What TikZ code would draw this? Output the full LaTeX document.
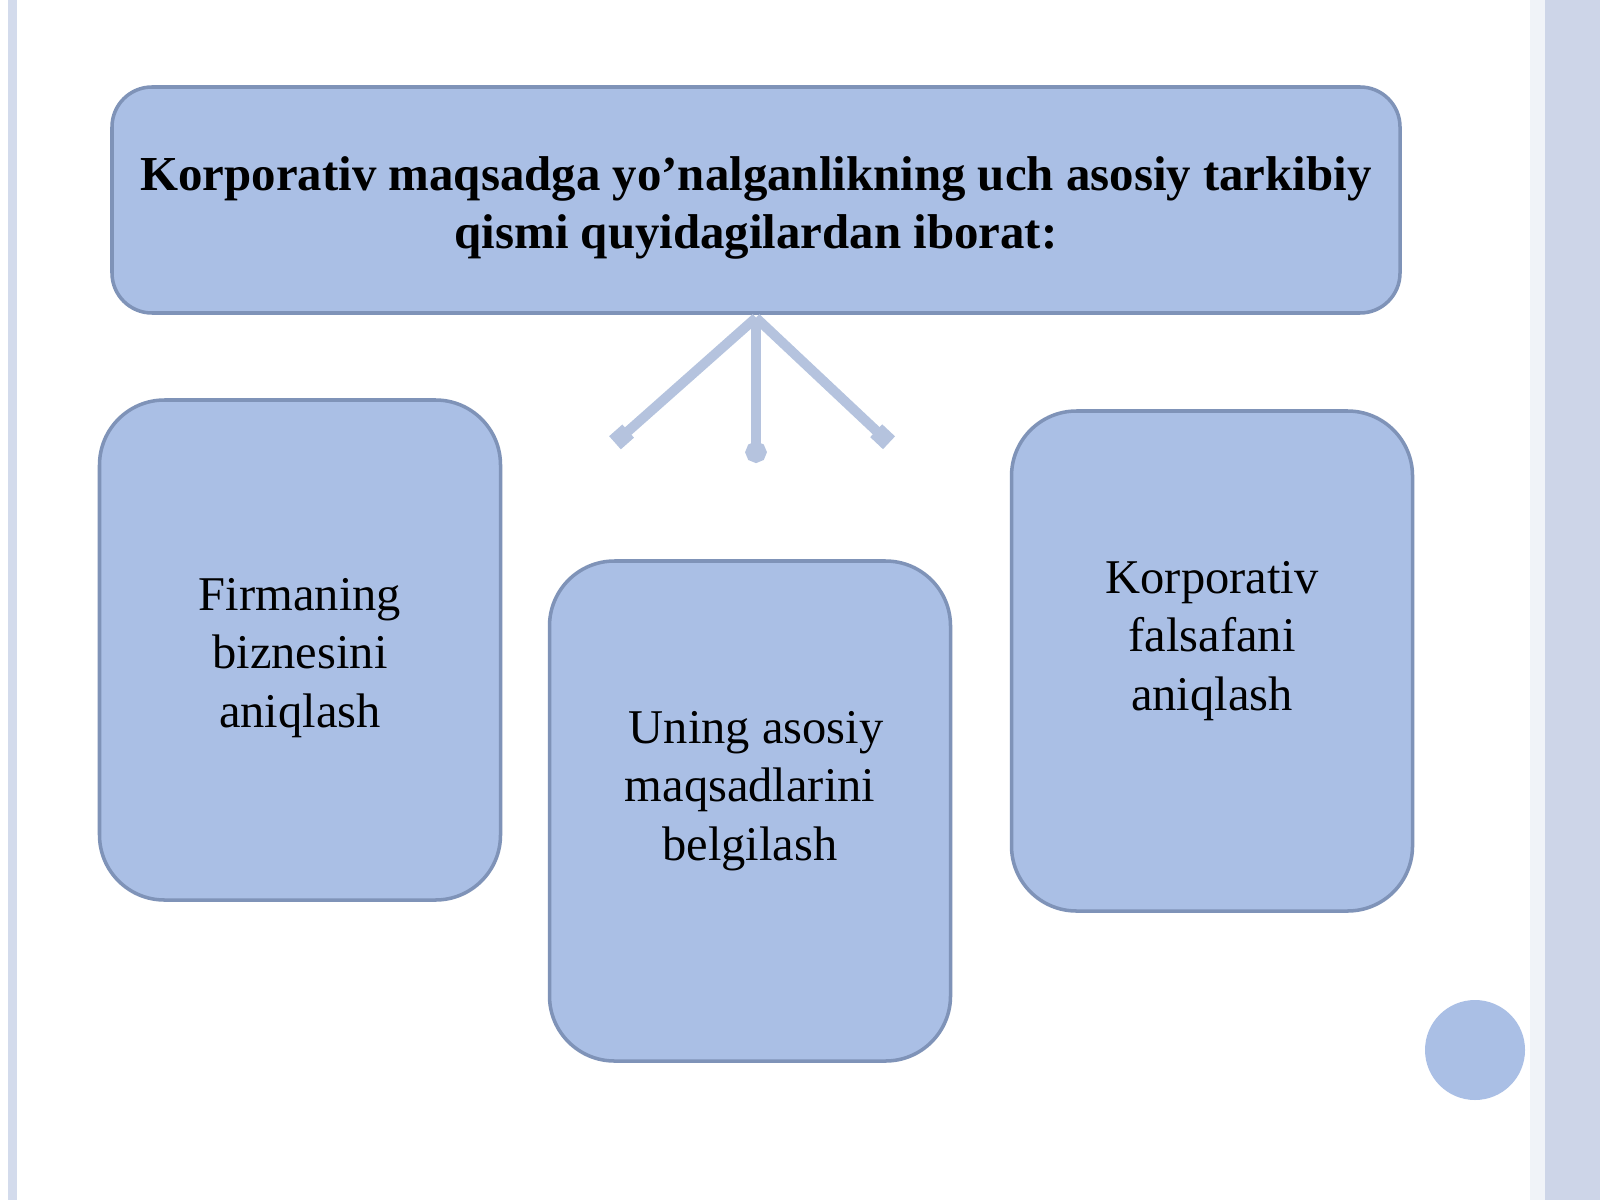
\documentclass[tikz,border=0pt]{standalone}
\usepackage{fontspec}
\setmainfont{Liberation Serif}
\usetikzlibrary{positioning,arrows.meta}
\definecolor{boxfill}{HTML}{AABFE5}
\definecolor{boxline}{HTML}{7F93B8}
\definecolor{linkcol}{HTML}{B5C3DE}
\definecolor{panel}{HTML}{CDD5E8}
\definecolor{stripe}{HTML}{D3DBEC}
\tikzset{
	box/.style={draw=boxline, line width=1pt, fill=boxfill, rounded corners=0.65cm,
		minimum width=4.01cm, minimum height=5cm, inner sep=0pt},
	boxtext/.style={align=center, font=\fontsize{13.8}{16.6}\selectfont},
	link/.style={draw=linkcol, line width=2.8pt},
	sqtip/.style={-{Square[length=5pt,width=5pt]}},
	rdtip/.style={-{Circle[length=6pt]}}
}
\begin{document}
\begin{tikzpicture}[node distance=1.25cm and 1.41cm]
				\useasboundingbox (0,0) rectangle (16,12);
				\fill[white] (0,0) rectangle (16,12);
				\fill[stripe] (0.08,0) rectangle (0.17,12);
				\fill[white!70!panel] (15.30,0) rectangle (15.45,12);
				\fill[panel] (15.45,0) rectangle (16,12);
				
				\node[box, rounded corners=0.4cm, minimum width=12.88cm, minimum height=2.26cm] (head) at (7.56,10.0) {};
				\node[boxtext, font=\bfseries\fontsize{13.9}{16.6}\selectfont] at ([yshift=-0.08cm]head.center)
					{Korporativ maqsadga yo’nalganlikning uch asosiy tarkibiy\\qismi quyidagilardan iborat:};
				\node[box] (firm) at (3.0,5.5) {};
				\node[box] (goal) at (7.50,3.89) {};
				\node[box] (phil) at (12.12,5.39) {};
				\node[boxtext] at ([yshift=-0.08cm]firm.center) {Firmaning\\biznesini\\aniqlash};
				\node[boxtext] at ([yshift=0.20cm]goal.center) {\ Uning asosiy\\maqsadlarini\\belgilash};
				\node[boxtext] at ([yshift=0.20cm]phil.center) {Korporativ\\falsafani\\aniqlash};
				
				\coordinate (hub) at ([yshift=-0.03cm]head.south);
				\coordinate[below left=of hub] (t1);
				\coordinate[below=1.45cm of hub] (t2);
				\coordinate[below right=1.25cm and 1.33cm of hub] (t3);
				\draw[link, sqtip] (hub) -- (t1);
				\draw[link, rdtip] (hub) -- (t2);
				\draw[link, sqtip] (hub) -- (t3);
				
				\fill[boxfill] (14.75,1.50) circle (0.5cm);
			\end{tikzpicture}
\end{document}
